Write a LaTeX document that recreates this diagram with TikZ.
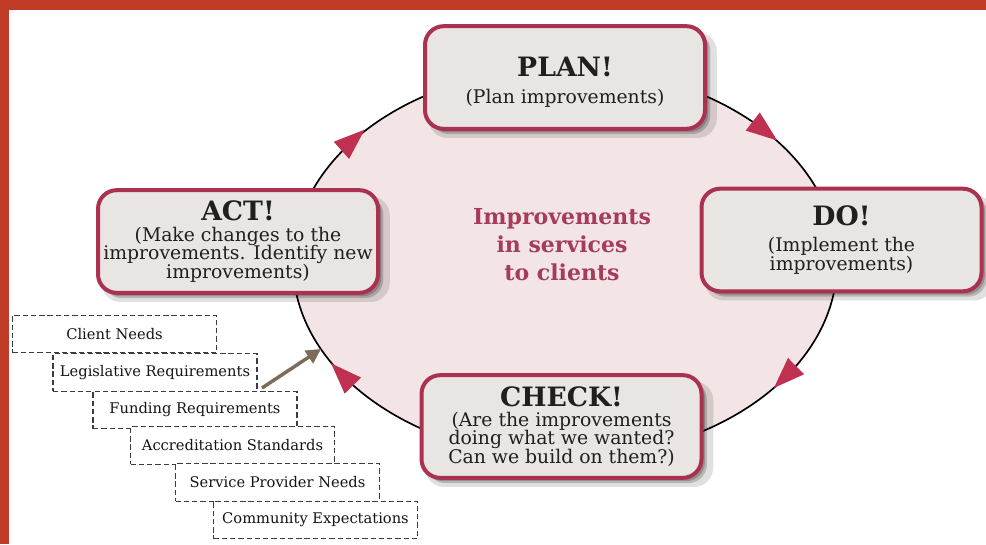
\documentclass[tikz,border=0pt]{standalone}
\usepackage{fontspec}
\setmainfont{DejaVu Serif}
\usetikzlibrary{shapes.geometric,shadows,arrows.meta}
\definecolor{bgred}{RGB}{192,60,38}
\definecolor{ringfill}{RGB}{243,228,229}
\definecolor{boxfill}{RGB}{232,229,227}
\definecolor{boxline}{RGB}{170,50,80}
\definecolor{tipred}{RGB}{192,48,80}
\definecolor{midtext}{RGB}{165,60,90}
\definecolor{dashc}{RGB}{55,60,72}
\definecolor{brownc}{RGB}{123,107,88}
\newcommand\headf{\fontsize{20}{22}\selectfont\bfseries}
\newcommand\subf{\fontsize{14.1}{14}\selectfont}
\begin{document}
\begin{tikzpicture}[x=0.75pt,y=-0.75pt,
  cycbox/.style={draw=boxline, line width=3pt, fill=boxfill, rounded corners=14pt,
    minimum width=210pt, minimum height=77pt, align=center, inner sep=0pt,
    font=\subf, text=black!88,
    drop shadow={shadow xshift=5.5pt,shadow yshift=-5.5pt,opacity=0.12,fill=black,shadow scale=1.03},
    drop shadow={shadow xshift=4pt,shadow yshift=-4pt,opacity=0.18,fill=black},
    drop shadow={shadow xshift=2.5pt,shadow yshift=-2.5pt,opacity=0.2,fill=black}},
  dbox/.style={draw=dashc, line width=0.9pt, dash pattern=on 4pt off 2.2pt, fill=white,
    minimum width=153pt, minimum height=28pt, inner sep=0pt,
    font=\fontsize{11}{12}\selectfont, text=black!92},
  midlabel/.style={align=center, text=midtext, font=\fontsize{16.5}{21}\selectfont\bfseries},
  tiphead/.style={fill=tipred}]
\useasboundingbox (0,0) rectangle (986,544);
% background frame
\fill[bgred] (0,0) rectangle (986,544);
\fill[white] (9,10) rectangle (986,544);
% cycle ring
\draw[line width=1.25pt, fill=ringfill] (565,263) ellipse [x radius=272, y radius=195];
% arrowheads on ring
\fill[tiphead, shift={(353,140)}, rotate=41.7]   (15.5,0) -- (-15.5,11.5) -- (-15.5,-11.5) -- cycle;
\fill[tiphead, shift={(765,131)}, rotate=-37.8]  (15.5,0) -- (-15.5,11.5) -- (-15.5,-11.5) -- cycle;
\fill[tiphead, shift={(785,377)}, rotate=-135.4] (15.5,0) -- (-15.5,11.5) -- (-15.5,-11.5) -- cycle;
\fill[tiphead, shift={(342,374.5)}, rotate=134.3]  (15.5,0) -- (-15.5,11.5) -- (-15.5,-11.5) -- cycle;
% the four stages
\node[cycbox] (plan) at (565,77.5) {\rule{0pt}{22pt}{\headf PLAN!}\\[6pt](Plan improvements)};
\node[cycbox] (do) at (841.5,240) {{\headf DO!}\\[5.5pt](Implement the\\improvements)};
\node[cycbox] (act) at (238,241.5) {{\headf ACT!}\\[1.5pt](Make changes to the\\improvements. Identify new\\improvements)};
\node[cycbox] (check) at (561.5,426.5) {{\headf CHECK!}\\[1pt](Are the improvements\\doing what we wanted?\\Can we build on them?)};
% centre label
\node[midlabel] (mid) at (562,245) {Improvements\\in services\\to clients};
% inputs
\node[dbox] (cn) at (114.5,334) {Client Needs};
\node[dbox] (lr) at (155,372.5) {Legislative Requirements};
\node[dbox] (fr) at (195,410) {Funding Requirements};
\node[dbox] (as) at (232.5,445.5) {Accreditation Standards};
\node[dbox] (sp) at (277.5,482.5) {Service Provider Needs};
\node[dbox] (ce) at (315.5,520) {Community Expectations};
% input arrow
\coordinate (bt) at (262,388);
\coordinate (bh) at (321,349);
\draw[brownc, line width=2.6pt, -{Triangle[length=11pt,width=11pt]}] (bt) -- (bh);
\end{tikzpicture}
\end{document}
